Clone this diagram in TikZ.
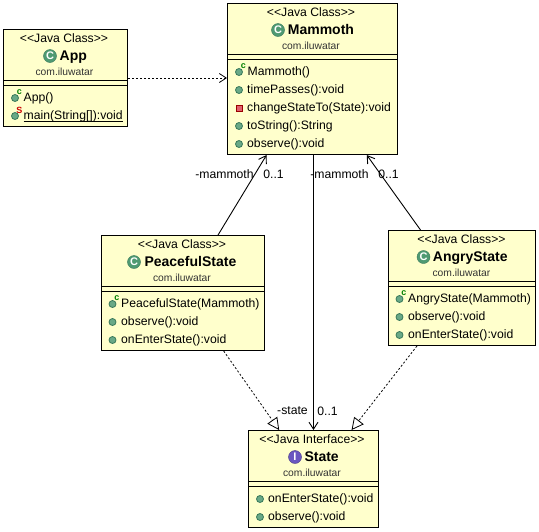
\documentclass[tikz,border=0pt]{standalone}
\usepackage{fontspec}
\setmainfont{Liberation Sans}
\usetikzlibrary{arrows.meta}
\definecolor{clsfill}{HTML}{FFFFCC}
\definecolor{icgreen}{HTML}{4F9A72}
\definecolor{icedge}{HTML}{38785A}
\definecolor{icpurple}{HTML}{6A57C0}
\definecolor{icred}{HTML}{E0606E}

\begin{document}
\begin{tikzpicture}[
    x=1pt, y=-1pt,
    every node/.style={font=\fontsize{12.2}{14}\selectfont, text=black},
    cls/.style={rectangle, draw, line width=1pt, fill=clsfill, inner sep=0pt},
    st/.style={inner sep=0pt, text height=10pt, text depth=2pt},
    nm/.style={anchor=west, inner sep=0pt, text height=11pt, text depth=2pt,
               font=\fontsize{14}{16}\selectfont\bfseries},
    pk/.style={inner sep=0pt, text height=9pt, text depth=2pt,
               font=\fontsize{10.3}{12}\selectfont, text=black!80},
    mem/.style={anchor=west, inner sep=0pt, text height=10pt, text depth=2pt},
    ci/.style={circle, draw=icedge, fill=icgreen, minimum size=13pt, inner sep=0pt,
               font=\fontsize{11}{11}\selectfont\bfseries, text=white},
    pub/.style={circle, draw=icedge, fill=icgreen!85!white, line width=.8pt, minimum size=7pt, inner sep=0pt},
    prv/.style={rectangle, draw=red!60!black, fill=icred, line width=.8pt, minimum size=6pt, inner sep=0pt},
    sup/.style={inner sep=0pt, font=\fontsize{9}{9}\selectfont\bfseries},
    lbl/.style={inner sep=0pt, text height=10pt, text depth=2pt},
    dep/.style={line width=.8pt, dash pattern=on 2pt off 2pt, -{Straight Barb[length=7pt,width=9pt]}},
    asc/.style={line width=.9pt, -{Straight Barb[length=7pt,width=9pt]}},
    imp/.style={line width=.8pt, dash pattern=on 2pt off 2pt,
                -{Triangle[length=12pt,width=12pt,fill=white,line width=.8pt,sep=0pt]}},
  ]
  \useasboundingbox (0,0) rectangle (539,531);

  % App
  \node[cls, minimum width=124pt, minimum height=97pt] (app) at (65.5,78) {};
  \draw[line width=1pt] (app.west |- 0,80.5) -- (app.east |- 0,80.5);
  \draw[line width=1pt] (app.west |- 0,85.5) -- (app.east |- 0,85.5);
  \node[st] (appst) at (64,38.5) {{<}{<}Java Class{>}{>}};
  \node[ci] (appic) at (50,56) {C};
  \node[nm] (appnm) at (59.5,56) {App};
  \node[pk] (apppk) at (64.5,72) {com.iluwatar};
  \node[pub] (appm1i) at (15,98) {};
  \node[sup, text=green!50!black] (appm1s) at (19.5,92) {c};
  \node[mem] (appm1) at (23.5,97) {App()};
  \node[pub] (appm2i) at (15,116) {};
  \node[sup, text=red!80!black] (appm2s) at (19.5,110) {S};
  \node[mem] (appm2) at (23.5,115) {main(String[]):void};
  \draw[line width=.8pt] (appm2.south west) -- (appm2.south east);

  % Mammoth
  \node[cls, minimum width=170pt, minimum height=151pt] (mammoth) at (312.5,79) {};
  \draw[line width=1pt] (mammoth.west |- 0,54.5) -- (mammoth.east |- 0,54.5);
  \draw[line width=1pt] (mammoth.west |- 0,59.5) -- (mammoth.east |- 0,59.5);
  \node[st] (mamst) at (311,12.5) {{<}{<}Java Class{>}{>}};
  \node[ci] (mamic) at (278,30) {C};
  \node[nm] (mamnm) at (287.7,30) {Mammoth};
  \node[pk] (mampk) at (311,46) {com.iluwatar};
  \node[pub] (mamm1i) at (239,72) {};
  \node[sup, text=green!50!black] (mamm1s) at (243.5,66) {c};
  \node[mem] (mamm1) at (247.5,71) {Mammoth()};
  \node[pub] (mamm2i) at (239,90) {};
  \node[mem] (mamm2) at (247,89) {timePasses():void};
  \node[prv] (mamm3i) at (239,108) {};
  \node[mem] (mamm3) at (247,107) {changeStateTo(State):void};
  \node[pub] (mamm4i) at (239,126) {};
  \node[mem] (mamm4) at (247,125) {toString():String};
  \node[pub] (mamm5i) at (239,144) {};
  \node[mem] (mamm5) at (247,143) {observe():void};

  % PeacefulState
  \node[cls, minimum width=163pt, minimum height=115pt] (peaceful) at (183,293) {};
  \draw[line width=1pt] (peaceful.west |- 0,286.5) -- (peaceful.east |- 0,286.5);
  \draw[line width=1pt] (peaceful.west |- 0,291.5) -- (peaceful.east |- 0,291.5);
  \node[st] (peast) at (182,244.5) {{<}{<}Java Class{>}{>}};
  \node[ci] (peaic) at (134,262) {C};
  \node[nm] (peanm) at (144.3,262) {PeacefulState};
  \node[pk] (peapk) at (182,278) {com.iluwatar};
  \node[pub] (peam1i) at (112.5,304) {};
  \node[sup, text=green!50!black] (peam1s) at (117,298) {c};
  \node[mem] (peam1) at (121,303) {PeacefulState(Mammoth)};
  \node[pub] (peam2i) at (112.5,322) {};
  \node[mem] (peam2) at (121,321) {observe():void};
  \node[pub] (peam3i) at (112.5,340) {};
  \node[mem] (peam3) at (121,339) {onEnterState():void};

  % AngryState
  \node[cls, minimum width=147pt, minimum height=115pt] (angry) at (462,288) {};
  \draw[line width=1pt] (angry.west |- 0,281.5) -- (angry.east |- 0,281.5);
  \draw[line width=1pt] (angry.west |- 0,286.5) -- (angry.east |- 0,286.5);
  \node[st] (angst) at (461.5,239.5) {{<}{<}Java Class{>}{>}};
  \node[ci] (angic) at (423.5,257) {C};
  \node[nm] (angnm) at (432.7,257) {AngryState};
  \node[pk] (angpk) at (461.5,273) {com.iluwatar};
  \node[pub] (angm1i) at (399.5,299) {};
  \node[sup, text=green!50!black] (angm1s) at (404,293) {c};
  \node[mem] (angm1) at (408,298) {AngryState(Mammoth)};
  \node[pub] (angm2i) at (399.5,317) {};
  \node[mem] (angm2) at (408,316) {observe():void};
  \node[pub] (angm3i) at (399.5,335) {};
  \node[mem] (angm3) at (408,334) {onEnterState():void};

  % State
  \node[cls, minimum width=130pt, minimum height=97pt] (state) at (313.5,479) {};
  \draw[line width=1pt] (state.west |- 0,481.5) -- (state.east |- 0,481.5);
  \draw[line width=1pt] (state.west |- 0,486.5) -- (state.east |- 0,486.5);
  \node[st] (stast) at (312,439.5) {{<}{<}Java Interface{>}{>}};
  \node[ci, draw=icpurple!70!black, fill=icpurple] (staic) at (295,457) {I};
  \node[nm] (stanm) at (304.3,457) {State};
  \node[pk] (stapk) at (312,473) {com.iluwatar};
  \node[pub] (stam1i) at (260,499) {};
  \node[mem] (stam1) at (268,498) {onEnterState():void};
  \node[pub] (stam2i) at (260,517) {};
  \node[mem] (stam2) at (268,516) {observe():void};

  % connectors
  \draw[dep] (app.east) -- (app.east -| mammoth.west);
  \draw[asc] (peaceful) -- (mammoth);
  \draw[asc] (angry) -- (mammoth);
  \draw[asc] (mammoth.south -| state.north) -- (state.north);
  \draw[imp] (peaceful) -- (state);
  \draw[imp] (angry) -- (state);

  % end labels
  \node[lbl] (l1) at (224.5,174) {-mammoth};
  \node[lbl] (l2) at (273.5,174) {0..1};
  \node[lbl] (l3) at (339.5,174) {-mammoth};
  \node[lbl] (l4) at (388.5,174) {0..1};
  \node[lbl] (l5) at (292.5,410) {-state};
  \node[lbl] (l6) at (327.5,411) {0..1};
\end{tikzpicture}
\end{document}
